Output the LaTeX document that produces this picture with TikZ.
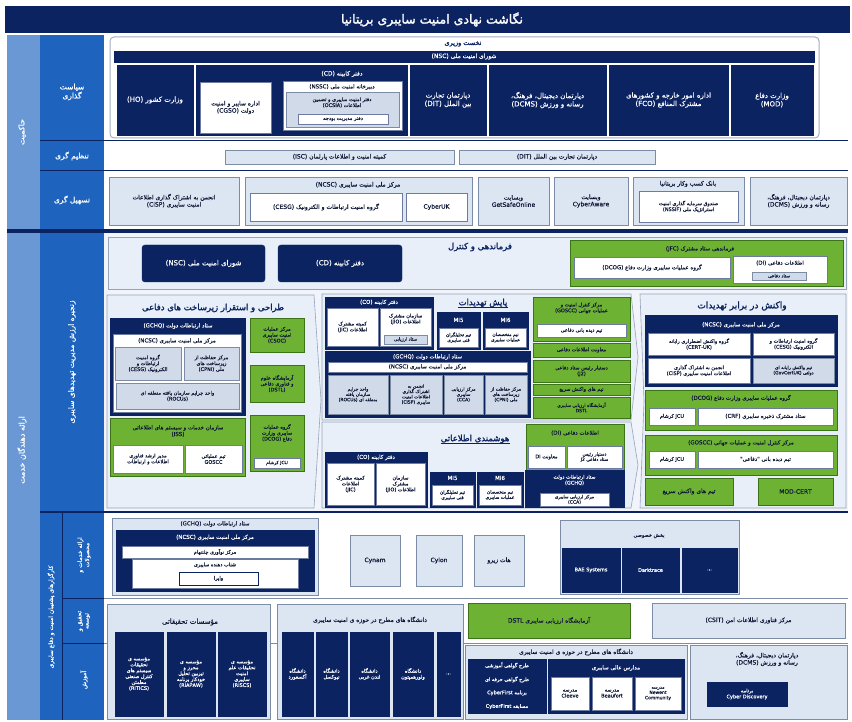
\documentclass[tikz,border=0pt]{standalone}
\usepackage{fontspec}
\TeXXeTstate=1
\newfontfamily\fa[Script=Arabic,FakeBold=0.5]{DejaVu Sans}
\newfontfamily\fab[Script=Arabic,FakeBold=1.8]{DejaVu Sans}
\newcommand{\rtl}[1]{\beginR #1\endR}
\newcommand{\ltr}[1]{\beginL #1\endL}
\newcommand{\bx}[7]{\node[#2,minimum width={(#5-#3)*1pt},minimum height={(#6-#4)*1pt}] (#1) at ({(#3+#5)/2},{(#4+#6)/2}) {#7};}
\definecolor{cNavy}{RGB}{12,35,98}
\definecolor{cMid}{RGB}{30,100,190}
\definecolor{cLb}{RGB}{105,152,212}
\definecolor{cLight}{RGB}{220,230,243}
\definecolor{cPanel}{RGB}{232,239,248}
\definecolor{cVbg}{RGB}{241,245,251}
\definecolor{cGrn}{RGB}{110,178,52}
\definecolor{cGrnD}{RGB}{60,115,25}
\definecolor{cGrey}{RGB}{208,218,232}
\definecolor{cBord}{RGB}{125,140,165}
\definecolor{cInk}{RGB}{15,25,55}
\begin{document}
\begin{tikzpicture}[x=1pt,y=-1pt,
 base/.style={inner sep=0.6pt, align=center, font=\fa\fontsize{5.5}{6.6}\selectfont},
 dk/.style={base, fill=cNavy, draw=cNavy, text=white},
 wt/.style={base, fill=white, draw=cNavy!60, text=cInk},
 lt/.style={base, fill=cLight, draw=cBord, text=cInk},
 gn/.style={base, fill=cGrn, draw=cGrnD, text=cInk},
 gy/.style={base, fill=cGrey, draw=cBord, text=cInk},
 tt/.style={inner sep=0pt, align=center, text=cInk, font=\fa\fontsize{5.5}{6.6}\selectfont},
 tw/.style={tt, text=white},
 s4/.style={font=\fa\fontsize{4.5}{5.3}\selectfont},
 s45/.style={font=\fa\fontsize{5}{5.9}\selectfont},
 s55/.style={font=\fa\fontsize{6}{7.2}\selectfont},
 s6/.style={font=\fa\fontsize{7}{8.4}\selectfont},
 hd/.style={inner sep=0pt, text=cNavy, font=\fab\fontsize{8.5}{10}\selectfont},
 lab/.style={inner sep=0pt, align=center, text=white, font=\fa\fontsize{7.5}{9}\selectfont},
 panel/.style={fill=cPanel, draw=cBord!80, line width=0.6pt}]
\useasboundingbox (0,0) rectangle (852,722);
\fill[white] (0,0) rectangle (852,722);
% title
\fill[cNavy] (5,6) rectangle (850,33);
\node[inner sep=0pt, text=white, font=\fab\fontsize{12.5}{14}\selectfont] (title) at (432,19.5) {\rtl{نگاشت نهادی امنیت سایبری بریتانیا}};
% left columns
\fill[cLb] (7,35) rectangle (40,229);
\fill[cMid] (40,35) rectangle (104,229);
\fill[cLb] (7,233) rectangle (40,720);
\fill[cMid] (40,233) rectangle (104,720);
\fill[cVbg] (104,233) rectangle (848,511);
\draw[cNavy, line width=1pt] (40,141) -- (848,141);
\draw[cNavy, line width=0.5pt] (40,170) -- (848,170);
\fill[cNavy] (7,229) rectangle (848,233);
\fill[cNavy] (40,510.5) rectangle (848,513);
\draw[cNavy, line width=0.6pt] (62,513) -- (62,720);
\draw[cNavy, line width=0.5pt] (62,598) -- (104,598);
\draw[cNavy, line width=0.5pt] (62,643) -- (104,643);
\draw[cBord, line width=0.6pt] (104,598) -- (848,598);
\draw[cBord, line width=0.4pt] (104,643) -- (848,643);
\node[lab, rotate=90, font=\fa\fontsize{8}{9}\selectfont] (Lgov) at (22,132) {\rtl{حاکمیت}};
\node[lab] (Lpol) at (72,92) {\rtl{سیاست}\\\rtl{گذاری}};
\node[lab] (Lreg) at (72,156) {\rtl{تنظیم گری}};
\node[lab] (Lfac) at (72,200) {\rtl{تسهیل گری}};
\node[lab, rotate=90, font=\fa\fontsize{8}{9}\selectfont] (Lsp) at (22,450) {\rtl{ارائه دهندگان خدمت}};
\node[lab, rotate=90] (Lvc) at (72,362) {\rtl{زنجیره ارزش مدیریت تهدیدهای سایبری}};
\node[lab, rotate=90, s55] (Lag) at (51,617) {\rtl{کارگزارهای پشتیبان امنیت و دفاع سایبری}};
\node[lab, rotate=90, s55] (Lprod) at (84,555) {\rtl{ارائه خدمات و}\\\rtl{محصولات}};
\node[lab, rotate=90, s55] (Lrd) at (84,621) {\rtl{تحقیق و}\\\rtl{توسعه}};
\node[lab, rotate=90, s55] (Ledu) at (84,680) {\rtl{آموزش}};
% ===== policy row
\draw[rounded corners=4, fill=white, draw=cBord!70, line width=1pt] (110,37) rectangle (819,138);
\node[hd, font=\fab\fontsize{6.5}{7.5}\selectfont] (pm) at (463,44) {\rtl{نخست وزیری}};
\bx{nsc}{dk,s55}{114}{51}{814}{62}{\rtl{شورای امنیت ملی \ltr{(NSC)}}}
\bx{mod}{dk,s6}{731}{65}{813}{135}{\rtl{وزارت دفاع}\\\ltr{(MOD)}}
\bx{fco}{dk,s6}{609}{65}{728}{135}{\rtl{اداره امور خارجه و کشورهای}\\\rtl{مشترک المنافع \ltr{(FCO)}}}
\bx{dcms}{dk,s6}{489}{65}{606}{135}{\rtl{دپارتمان دیجیتال، فرهنگ،}\\\rtl{رسانه و ورزش \ltr{(DCMS)}}}
\bx{dit}{dk,s6}{410}{65}{486}{135}{\rtl{دپارتمان تجارت}\\\rtl{بین الملل \ltr{(DIT)}}}
\bx{cd}{dk}{196}{65}{407}{135}{}
\node[tw, s55] (cdT) at (342,74) {\rtl{دفتر کابینه \ltr{(CD)}}};
\bx{cgso}{wt,s55}{200}{82}{271}{133}{\rtl{اداره سایبر و امنیت}\\\rtl{دولت \ltr{(CGSO)}}}
\bx{nssc}{wt}{283}{81}{402}{130}{}
\node[tt] (nsscT) at (342,87) {\rtl{دبیرخانه امنیت ملی \ltr{(NSSC)}}};
\bx{ocsia}{gy}{286}{92}{399}{127}{}
\node[tt, s45] (ocsiaT) at (342,102.5) {\rtl{دفتر امنیت سایبری و تضمین}\\\rtl{اطلاعات \ltr{(OCSIA)}}};
\bx{budget}{wt,s45}{298}{114}{388}{124}{\rtl{دفتر مدیریت بودجه}}
\bx{ho}{dk,s6}{117}{65}{193}{135}{\rtl{وزارت کشور \ltr{(HO)}}}
% ===== regulation row
\bx{isc}{lt,s55}{225}{150}{454}{164}{\rtl{کمیته امنیت و اطلاعات پارلمان \ltr{(ISC)}}}
\bx{dit2}{lt,s55}{459}{150}{655}{164}{\rtl{دپارتمان تجارت بین الملل \ltr{(DIT)}}}
% ===== facilitation row
\bx{cisp}{lt,s55}{109}{177}{239}{225}{\rtl{انجمن به اشتراک گذاری اطلاعات}\\\rtl{امنیت سایبری \ltr{(CiSP)}}}
\bx{ncscF}{lt}{245}{177}{472}{225}{}
\node[tt, s55] (ncscFT) at (358,185) {\rtl{مرکز ملی امنیت سایبری \ltr{(NCSC)}}};
\bx{cesgF}{wt,s55}{250}{193}{402}{221}{\rtl{گروه امنیت ارتباطات و الکترونیک \ltr{(CESG)}}}
\bx{cyberuk}{wt,s55}{406}{193}{467}{221}{CyberUK}
\bx{gso}{lt,s55}{478}{177}{549}{225}{\rtl{وبسایت}\\GetSafeOnline}
\bx{caw}{lt,s55}{554}{177}{628}{225}{\rtl{وبسایت}\\CyberAware}
\bx{bbb}{lt}{633}{177}{744}{225}{}
\node[tt, s55] (bbbT) at (688,184) {\rtl{بانک کسب وکار بریتانیا}};
\bx{nssif}{wt,s45}{639}{191}{738}{222}{\rtl{صندوق سرمایه گذاری امنیت}\\\rtl{استراتژیک ملی \ltr{(NSSIF)}}}
\bx{dcmsF}{lt,s55}{750}{177}{847}{225}{\rtl{دپارتمان دیجیتال، فرهنگ،}\\\rtl{رسانه و ورزش \ltr{(DCMS)}}}
% ===== value chain: command & control strip
\draw[panel] (108,237) rectangle (846,289);
\bx{nscV}{dk,s6,rounded corners=3}{142}{245}{265}{282}{\rtl{شورای امنیت ملی \ltr{(NSC)}}}
\bx{cdV}{dk,s6,rounded corners=3}{278}{245}{402}{282}{\rtl{دفتر کابینه \ltr{(CD)}}}
\node[hd] (c2) at (480,247) {\rtl{فرماندهی و کنترل}};
\bx{jfc}{gn}{570}{240}{843}{286}{}
\node[tt] (jfcT) at (700,249) {\rtl{فرماندهی ستاد مشترک \ltr{(JFC)}}};
\bx{dcogJ}{wt}{574}{257}{730}{278}{\rtl{گروه عملیات سایبری وزارت دفاع \ltr{(DCOG)}}}
\bx{diJ}{wt}{733}{256}{827}{283}{}
\node[tt] (diJT) at (780,263) {\rtl{اطلاعات دفاعی \ltr{(DI)}}};
\bx{dsJ}{gy,s4}{752}{272}{806}{280}{\rtl{ستاد دفاعی}}
% ===== left chevron: design & deployment
\filldraw[panel] (107,295) -- (314,295) -- (321,400) -- (314,508) -- (107,508) -- cycle;
\node[hd] (Ldes) at (213,308) {\rtl{طراحی و استقرار زیرساخت های دفاعی}};
\bx{gchqL}{dk}{110}{318}{245}{415}{}
\node[tw] (gchqLT) at (178,326) {\rtl{ستاد ارتباطات دولت \ltr{(GCHQ)}}};
\bx{ncscL}{wt}{113}{334}{241}{412}{}
\node[tt] (ncscLT) at (177,341) {\rtl{مرکز ملی امنیت سایبری \ltr{(NCSC)}}};
\bx{cesgL}{gy,s45}{115}{347}{181}{380}{\rtl{گروه امنیت}\\\rtl{ارتباطات و}\\\rtl{الکترونیک \ltr{(CESG)}}}
\bx{cpniL}{gy,s45}{184}{347}{239}{380}{\rtl{مرکز حفاظت از}\\\rtl{زیرساخت های}\\\rtl{ملی \ltr{(CPNI)}}}
\bx{rocuL}{gy,s45}{116}{383}{239}{409}{\rtl{واحد جرایم سازمان یافته منطقه ای}\\\ltr{(ROCUs)}}
\bx{csoc}{gn,s45}{250}{318}{304}{352}{\rtl{مرکز عملیات}\\\rtl{امنیت سایبری}\\\ltr{(CSOC)}}
\bx{dstlL}{gn,s45}{250}{365}{304}{402}{\rtl{آزمایشگاه علوم}\\\rtl{و فناوری دفاعی}\\\ltr{(DSTL)}}
\bx{dcogL}{gn}{250}{415}{304}{471}{}
\node[tt, s45] (dcogLT) at (277,433) {\rtl{گروه عملیات}\\\rtl{سایبری وزارت}\\\rtl{دفاع \ltr{(DCOG)}}};
\bx{jcuL}{wt,s4}{254}{458}{300}{468}{\rtl{\ltr{JCU} کرشام}}
\bx{iss}{gn}{110}{418}{245}{476}{}
\node[tt] (issT) at (178,431) {\rtl{سازمان خدمات و سیستم های اطلاعاتی}\\\ltr{(ISS)}};
\bx{cio}{wt,s45}{113}{445}{183}{473}{\rtl{مدیر ارشد فناوری}\\\rtl{اطلاعات و ارتباطات}}
\bx{gosccL}{wt,s45}{185}{445}{242}{473}{\rtl{تیم عملیاتی}\\GOSCC}
% ===== middle chevron: threat monitoring
\filldraw[panel] (322,294) -- (631,294) -- (638,357) -- (631,420) -- (322,420) -- cycle;
\node[hd] (thr) at (483,303) {\rtl{پایش تهدیدات}};
\draw[cNavy, line width=0.5pt] (thr.south west) -- (thr.south east);
\bx{coT}{dk}{325}{297}{433}{349}{}
\node[tw] (coTT) at (379,302.5) {\rtl{دفتر کابینه \ltr{(CO)}}};
\bx{jicT}{wt,s45}{327}{308}{378}{346}{\rtl{کمیته مشترک}\\\rtl{اطلاعات \ltr{(JIC)}}}
\bx{jioT}{wt}{380}{308}{431}{346}{}
\node[tt, s45] (jioTT) at (405.5,319) {\rtl{سازمان مشترک}\\\rtl{اطلاعات \ltr{(JIO)}}};
\bx{assT}{gy,s4}{384}{335}{427}{344}{\rtl{ستاد ارزیابی}}
\bx{mi5T}{dk}{437}{312}{480}{349}{}
\node[tw] (mi5TT) at (458.5,320) {MI5};
\bx{mi5Tw}{wt,s4}{439}{328}{478}{347}{\rtl{تیم تحلیلگران}\\\rtl{فنی سایبری}}
\bx{mi6T}{dk}{483}{312}{528}{349}{}
\node[tw] (mi6TT) at (505.5,320) {MI6};
\bx{mi6Tw}{wt,s4}{485}{328}{526}{347}{\rtl{تیم متخصصان}\\\rtl{عملیات سایبری}}
\bx{gchqT}{dk}{325}{351}{530}{417}{}
\node[tw] (gchqTT) at (427.5,357) {\rtl{ستاد ارتباطات دولت \ltr{(GCHQ)}}};
\bx{ncscT}{wt}{328}{362}{527}{372}{\rtl{مرکز ملی امنیت سایبری \ltr{(NCSC)}}}
\bx{rocuT}{gy,s4}{328}{375}{388}{414}{\rtl{واحد جرایم}\\\rtl{سازمان یافته}\\\rtl{منطقه ای \ltr{(ROCUs)}}}
\bx{cispT}{gy,s4}{390}{375}{442}{414}{\rtl{انجمن به}\\\rtl{اشتراک گذاری}\\\rtl{اطلاعات امنیت}\\\rtl{سایبری \ltr{(CiSP)}}}
\bx{ccaT}{gy,s4}{444}{375}{483}{414}{\rtl{مرکز ارزیابی}\\\rtl{سایبری}\\\ltr{(CCA)}}
\bx{cpniT}{gy,s4}{485}{375}{527}{414}{\rtl{مرکز حفاظت از}\\\rtl{زیرساخت های}\\\rtl{ملی \ltr{(CPNI)}}}
\bx{gosccT}{gn}{533}{297}{630}{341}{}
\node[tt, s45] (gosccTT) at (581.5,308) {\rtl{مرکز کنترل امنیت و}\\\rtl{عملیات جهانی \ltr{(GOSCC)}}};
\bx{watchT}{wt,s45}{537}{324}{626}{337}{\rtl{تیم دیده بانی دفاعی}}
\bx{dmiT}{gn,s45}{533}{343}{630}{357}{\rtl{معاونت اطلاعات دفاعی}}
\bx{j2T}{gn,s45}{533}{360}{630}{382}{\rtl{دستیار رئیس ستاد دفاعی}\\\ltr{(J2)}}
\bx{rrtT}{gn,s45}{533}{384}{630}{395}{\rtl{تیم های واکنش سریع}}
\bx{dstlT}{gn,s4}{533}{397}{630}{418}{\rtl{آزمایشگاه ارزیابی سایبری}\\DSTL}
% ===== middle chevron: intelligence
\filldraw[panel] (322,422) -- (631,422) -- (638,465) -- (631,508) -- (322,508) -- cycle;
\node[hd] (intl) at (475,439) {\rtl{هوشمندی اطلاعاتی}};
\draw[cNavy, line width=0.5pt] (intl.south west) -- (intl.south east);
\bx{diI}{gn}{526}{424}{624}{470}{}
\node[tt] (diIT) at (575,433) {\rtl{اطلاعات دفاعی \ltr{(DI)}}};
\bx{dmiI}{wt,s45}{528}{446}{565}{468}{\rtl{معاونت \ltr{DI}}}
\bx{j2I}{wt,s4}{567}{446}{622}{468}{\rtl{دستیار رئیس}\\\rtl{ستاد دفاعی \ltr{J2}}}
\bx{gchqI}{dk}{525}{470}{624}{507}{}
\node[tw, s45] (gchqIT) at (574.5,480) {\rtl{ستاد ارتباطات دولت}\\\ltr{(GCHQ)}};
\bx{ccaI}{wt,s4}{540}{493}{609}{506}{\rtl{مرکز ارزیابی سایبری}\\\ltr{(CCA)}}
\bx{coI}{dk}{325}{452}{427}{507}{}
\node[tw] (coIT) at (376,457.5) {\rtl{دفتر کابینه \ltr{(CO)}}};
\bx{jicI}{wt,s45}{327}{463}{374}{505}{\rtl{کمیته مشترک}\\\rtl{اطلاعات}\\\ltr{(JIC)}}
\bx{jioI}{wt,s45}{376}{463}{425}{505}{\rtl{سازمان}\\\rtl{مشترک}\\\rtl{اطلاعات \ltr{(JIO)}}}
\bx{mi5I}{dk}{430}{472}{475}{507}{}
\node[tw] (mi5IT) at (452.5,478) {MI5};
\bx{mi5Iw}{wt,s4}{432}{485}{473}{505}{\rtl{تیم تحلیلگران}\\\rtl{فنی سایبری}}
\bx{mi6I}{dk}{477}{472}{523}{507}{}
\node[tw] (mi6IT) at (500,478) {MI6};
\bx{mi6Iw}{wt,s4}{479}{485}{521}{505}{\rtl{تیم متخصصان}\\\rtl{عملیات سایبری}}
% ===== right panel: response
\filldraw[panel] (640,294) -- (846,294) -- (846,508) -- (640,508) -- (644,401) -- cycle;
\node[hd, font=\fab\fontsize{9}{10.5}\selectfont] (resp) at (742,306) {\rtl{واکنش در برابر تهدیدات}};
\bx{ncscR}{dk}{645}{315}{837}{386}{}
\node[tw] (ncscRT) at (741,325) {\rtl{مرکز ملی امنیت سایبری \ltr{(NCSC)}}};
\bx{certR}{wt,s45}{648}{333}{750}{355}{\rtl{گروه واکنش اضطراری رایانه}\\\ltr{(CERT-UK)}}
\bx{cesgR}{wt,s45}{753}{333}{834}{355}{\rtl{گروه امنیت ارتباطات و}\\\rtl{الکترونیک \ltr{(CESG)}}}
\bx{cispR}{wt,s45}{648}{358}{750}{383}{\rtl{انجمن به اشتراک گذاری}\\\rtl{اطلاعات امنیت سایبری \ltr{(CiSP)}}}
\bx{govR}{gy,s4}{753}{358}{834}{383}{\rtl{تیم واکنش رایانه ای}\\\rtl{دولتی \ltr{(GovCertUK)}}}
\bx{dcogR}{gn}{645}{390}{837}{430}{}
\node[tt] (dcogRT) at (741,398) {\rtl{گروه عملیات سایبری وزارت دفاع \ltr{(DCOG)}}};
\bx{jcuR1}{wt,s45}{649}{408}{695}{425}{\rtl{\ltr{JCU} کرشام}}
\bx{crf}{wt}{698}{408}{833}{425}{\rtl{ستاد مشترک ذخیره سایبری \ltr{(CRF)}}}
\bx{gosccR}{gn}{645}{435}{837}{475}{}
\node[tt] (gosccRT) at (741,443) {\rtl{مرکز کنترل امنیت و عملیات جهانی \ltr{(GOSCC)}}};
\bx{jcuR2}{wt,s45}{649}{451}{695}{468}{\rtl{\ltr{JCU} کرشام}}
\bx{watchR}{wt}{698}{451}{833}{468}{\rtl{تیم دیده بانی "دفاعی"}}
\bx{rrtR}{gn,s55}{645}{478}{733}{505}{\rtl{تیم های واکنش سریع}}
\bx{modcert}{gn,s55}{758}{478}{833}{505}{MOD-CERT}
% ===== products & services
\bx{gchqP}{lt}{112}{518}{318}{595}{}
\node[tt] (gchqPT) at (215,524) {\rtl{ستاد ارتباطات دولت \ltr{(GCHQ)}}};
\bx{ncscP}{dk}{116}{530}{314}{591}{}
\node[tw] (ncscPT) at (215,537.5) {\rtl{مرکز ملی امنیت سایبری \ltr{(NCSC)}}};
\bx{chel}{wt,s45}{122}{546}{308}{558}{\rtl{مرکز نوآوری چلتنهام}}
\bx{acc}{wt}{132}{559}{298}{588}{}
\node[tt, s45] (accT) at (215,565) {\rtl{شتاب دهنده سایبری}};
\bx{wayra}{wt,s45,draw=cNavy}{179}{572}{258}{585}{\rtl{وایرا}}
\bx{cynam}{lt,s55}{350}{535}{400}{586}{Cynam}
\bx{cylon}{lt,s55}{416}{535}{462}{586}{Cylon}
\bx{hutz}{lt,s55}{474}{535}{524}{586}{\rtl{هات زیرو}}
\bx{priv}{lt}{560}{520}{739}{594}{}
\node[tt, s45] (privT) at (649,536) {\rtl{بخش خصوصی}};
\bx{bae}{dk,s45}{562}{548}{620}{592}{BAE Systems}
\bx{dtr}{dk,s45}{622}{548}{679}{592}{Darktrace}
\bx{pdots}{dk,s45}{682}{548}{737}{592}{...}
% ===== research institutes
\bx{inst}{lt}{107}{604}{270}{719}{}
\node[tt, s6] (instT) at (190,622) {\rtl{مؤسسات تحقیقاتی}};
\bx{ritics}{dk,s45}{115}{632}{163}{716}{\rtl{مؤسسه ی}\\\rtl{تحقیقات}\\\rtl{سیستم های}\\\rtl{کنترل صنعتی}\\\rtl{مطمئن}\\\ltr{(RITICS)}}
\bx{riapaw}{dk,s45}{167}{632}{215}{716}{\rtl{مؤسسه ی}\\\rtl{محرز و}\\\rtl{تیزبین تحلیل}\\\rtl{خودکار برنامه}\\\ltr{(RIAPAW)}}
\bx{riscs}{dk,s45}{218}{632}{266}{716}{\rtl{مؤسسه ی}\\\rtl{تحقیقات علم}\\\rtl{امنیت}\\\rtl{سایبری}\\\ltr{(RISCS)}}
% ===== universities (R&D)
\bx{uni1}{lt}{277}{604}{463}{719}{}
\node[tt, s55] (uni1T) at (370,620) {\rtl{دانشگاه های مطرح در حوزه ی امنیت سایبری}};
\bx{oxf}{dk,s45}{282}{632}{313}{716}{\rtl{دانشگاه}\\\rtl{آکسفورد}}
\bx{newc}{dk,s45}{316}{632}{347}{716}{\rtl{دانشگاه}\\\rtl{نیوکسل}}
\bx{lond}{dk,s45}{350}{632}{389}{716}{\rtl{دانشگاه}\\\rtl{لندن غربی}}
\bx{wolv}{dk,s45}{393}{632}{433}{716}{\rtl{دانشگاه}\\\rtl{ولورهمپتون}}
\bx{udots}{dk,s45}{437}{632}{460}{716}{...}
\bx{dstlB}{gn,s55}{468}{603}{630}{638}{\rtl{آزمایشگاه ارزیابی سایبری \ltr{DSTL}}}
\bx{csit}{lt,s55}{652}{603}{845}{638}{\rtl{مرکز فناوری اطلاعات امن \ltr{(CSIT)}}}
% ===== education
\bx{uni2}{lt}{465}{645}{687}{719}{}
\node[tt, s55] (uni2T) at (576,652) {\rtl{دانشگاه های مطرح در حوزه ی امنیت سایبری}};
\bx{cert1}{dk,s45}{468}{659}{546}{672}{\rtl{طرح گواهی آموزشی}}
\bx{cert2}{dk,s45}{468}{673}{546}{686}{\rtl{طرح گواهی حرفه ای}}
\bx{cf1}{dk,s45}{468}{687}{546}{699}{\rtl{برنامه \ltr{CyberFirst}}}
\bx{cf2}{dk,s45}{468}{700}{546}{713}{\rtl{مسابقه \ltr{CyberFirst}}}
\bx{schools}{dk}{548}{659}{684}{713}{}
\node[tw] (schoolsT) at (616,668) {\rtl{مدارس عالی سایبری}};
\bx{cleeve}{wt,s45}{551}{677}{589}{710}{\rtl{مدرسه}\\Cleeve}
\bx{beauf}{wt,s45}{592}{677}{632}{710}{\rtl{مدرسه}\\Beaufort}
\bx{newent}{wt,s4}{635}{677}{681}{710}{\rtl{مدرسه}\\Newent\\Community}
\bx{dcmsE}{lt}{690}{645}{847}{719}{}
\node[tt, s55] (dcmsET) at (767,659) {\rtl{دپارتمان دیجیتال، فرهنگ،}\\\rtl{رسانه و ورزش \ltr{(DCMS)}}};
\bx{cdisc}{dk,s45}{707}{682}{787}{706}{\rtl{برنامه}\\Cyber Discovery}
\end{tikzpicture}
\end{document}
